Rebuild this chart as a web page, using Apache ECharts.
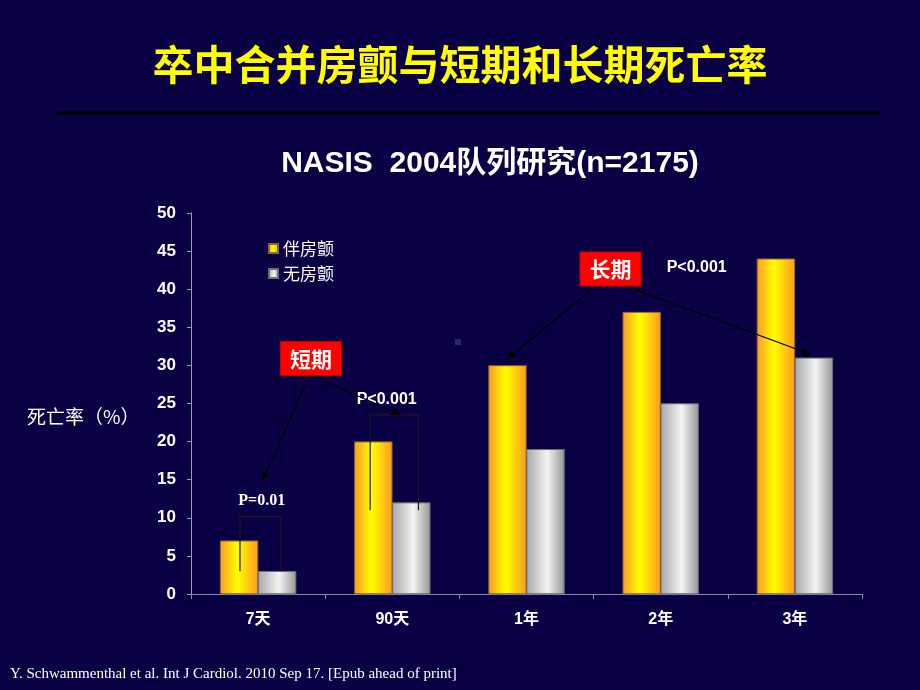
<!DOCTYPE html>
<html><head><meta charset="utf-8">
<script src="https://cdn.jsdelivr.net/npm/echarts@6/dist/echarts.min.js"></script>
<style>html,body{margin:0;padding:0;background:#0a0044;} #c{width:920px;height:690px;}</style>
</head><body><div id="c"></div>
<script>
const categories = ['7天', '90天', '1年', '2年', '3年'];
const seriesNames = ['伴房颤', '无房颤'];
const withAF = [7, 20, 30, 37, 44];
const withoutAF = [3, 12, 19, 25, 31];
const yMin = 0, yMax = 50, yStep = 5;
const titleText = '卒中合并房颤与短期和长期死亡率';
const subtitleText = 'NASIS  2004队列研究(n=2175)';
const yAxisName = '死亡率（%）';
const footnote = 'Y. Schwammenthal et al. Int J Cardiol. 2010 Sep 17. [Epub ahead of print]';
// brackets: [category position of left leg, right leg, top value, left bottom, right bottom]
const brackets = [[-0.135, 0.17, 10.2, 3, 3], [0.835, 1.195, 23.5, 11, 11]];
// p-value labels: [text, category position, value, serif?]
const pLabels = [['P=0.01', 0.027, 12.2, true], ['P<0.001', 0.958, 25.5, false], ['P<0.001', 3.268, 42.9, false]];
// callout boxes: [text, category position, value]
const callouts = [['短期', 0.394, 30.9], ['长期', 2.626, 42.65]];
// arrows: [from pos, from value, to pos, to value]
const arrows = [[0.387, 28.7, 0.027, 14.7], [0.387, 28.7, 1.07, 23.5], [2.598, 41.6, 1.848, 30.7], [2.635, 41.1, 4.125, 31.4]];

const chart = echarts.init(document.getElementById('c'));
const orangeGrad = new echarts.graphic.LinearGradient(0, 0, 1, 0, [
  {offset: 0, color: '#ff9a22'}, {offset: 0.45, color: '#ffff00'}, {offset: 1, color: '#ff9a22'}]);
const greyGrad = new echarts.graphic.LinearGradient(0, 0, 1, 0, [
  {offset: 0, color: '#a8a8a8'}, {offset: 0.55, color: '#f4f4f4'}, {offset: 1, color: '#959595'}]);
const CJK = '"Noto Sans CJK SC", "Liberation Sans", sans-serif';
const SANS = '"Liberation Sans", Arial, "Noto Sans CJK SC", sans-serif';

chart.setOption({
  backgroundColor: '#0a0044',
  animation: false,
  title: [
    {text: titleText, left: 'center', top: 39, textStyle: {color: '#ffff00', fontSize: 41, fontWeight: 'bold', fontFamily: CJK}},
    {text: subtitleText, left: 485, textAlign: 'center', top: 144, textStyle: {color: '#ffffff', fontSize: 30, fontWeight: 'bold', fontFamily: SANS}}
  ],
  legend: {
    orient: 'vertical', left: 263, top: 234, itemWidth: 9, itemHeight: 9, itemGap: 6, icon: 'rect',
    textStyle: {color: '#ffffff', fontSize: 17, fontFamily: CJK, lineHeight: 19},
    data: seriesNames
  },
  grid: {left: 191, right: 58, top: 213, bottom: 96},
  xAxis: {
    type: 'category', data: categories,
    axisLine: {lineStyle: {color: '#8a8aa0', width: 1}},
    axisTick: {show: true, length: 5, lineStyle: {color: '#8a8aa0'}},
    axisLabel: {color: '#ffffff', fontSize: 16, fontWeight: 'bold', fontFamily: SANS, margin: 18}
  },
  yAxis: {
    type: 'value', min: yMin, max: yMax, interval: yStep,
    axisLine: {show: true, lineStyle: {color: '#9a9ab0', width: 1}},
    axisTick: {show: true, length: 4, lineStyle: {color: '#9a9ab0'}},
    splitLine: {show: false},
    axisLabel: {color: '#ffffff', fontSize: 17, fontWeight: 'bold', fontFamily: SANS, margin: 15}
  },
  series: [
    {name: seriesNames[0], type: 'bar', data: withAF, barWidth: 38, barGap: '0%',
     itemStyle: {color: orangeGrad, borderColor: '#8a6a3a', borderWidth: 0.6}},
    {name: seriesNames[1], type: 'bar', data: withoutAF, barWidth: 38,
     itemStyle: {color: greyGrad, borderColor: '#707070', borderWidth: 0.6}}
  ]
});

function px(pos, val) {
  const a = chart.convertToPixel({gridIndex: 0}, [0, val]);
  const b = chart.convertToPixel({gridIndex: 0}, [1, val]);
  return [a[0] + pos * (b[0] - a[0]), a[1]];
}

const g = [];
g.push({type: 'line', shape: {x1: 55, y1: 113, x2: 881, y2: 113}, style: {stroke: '#000000', lineWidth: 3}});
g.push({type: 'text', left: 27, top: 407, style: {text: yAxisName, fill: '#ffffff', font: '19px ' + CJK}});
g.push({type: 'text', left: 10, top: 667, style: {text: footnote, fill: '#ffffff', font: '15px "Liberation Serif", "Times New Roman", serif'}});
g.push({type: 'rect', shape: {x: 455, y: 339, width: 6, height: 6}, style: {fill: '#2c2a62'}});

brackets.forEach(b => {
  const tl = px(b[0], b[2]), tr = px(b[1], b[2]), bl = px(b[0], b[3]), br = px(b[1], b[4]);
  g.push({type: 'polyline', shape: {points: [bl, tl, tr, br]}, style: {stroke: '#1a1a1a', lineWidth: 1.2, fill: null}, z: 10});
});
pLabels.forEach(p => {
  const c = px(p[1], p[2]);
  g.push({type: 'text', x: c[0], y: c[1], z: 11, style: {text: p[0], fill: '#ffffff', align: 'center', verticalAlign: 'middle',
    font: p[3] ? 'bold 16px "Liberation Serif", "Times New Roman", serif' : 'bold 16px ' + SANS}});
});
arrows.forEach(a => {
  const s = px(a[0], a[1]), e = px(a[2], a[3]);
  const dx = e[0] - s[0], dy = e[1] - s[1], L = Math.hypot(dx, dy);
  const ux = dx / L, uy = dy / L, hl = 10, hw = 4;
  const base = [e[0] - ux * hl, e[1] - uy * hl];
  g.push({type: 'line', shape: {x1: s[0], y1: s[1], x2: base[0], y2: base[1]}, style: {stroke: '#000000', lineWidth: 1.2}, z: 12});
  g.push({type: 'polygon', shape: {points: [e, [base[0] - uy * hw, base[1] + ux * hw], [base[0] + uy * hw, base[1] - ux * hw]]},
    style: {fill: '#000000'}, z: 12});
});
callouts.forEach(c => {
  const p = px(c[1], c[2]);
  const w = 61, h = 34;
  g.push({type: 'rect', shape: {x: p[0] - w / 2, y: p[1] - h / 2, width: w, height: h}, style: {fill: '#ff0000', stroke: '#c00000', lineWidth: 1}, z: 13});
  g.push({type: 'text', x: p[0], y: p[1], z: 14, style: {text: c[0], fill: '#ffffff', align: 'center', verticalAlign: 'middle', font: 'bold 21px ' + CJK}});
});
chart.setOption({graphic: g});
</script>
</body></html>
